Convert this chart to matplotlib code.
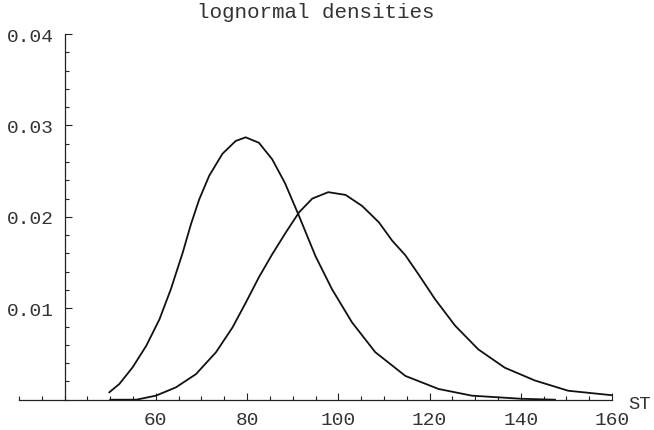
import matplotlib.pyplot as plt
from matplotlib.ticker import MultipleLocator

# density, curve peaking near 80
s1 = [49.8, 52.0, 54.9, 57.9, 60.8, 63.3, 65.9, 67.7, 69.5, 71.7, 74.6,
      77.5, 79.7, 82.6, 85.5, 88.3, 91.3, 95.0, 98.6, 103.0, 108.1, 114.7,
      122.0, 129.3, 140.2, 147.5]
d1 = [0.00081, 0.00172, 0.00354, 0.0059, 0.0088, 0.0121, 0.0161, 0.0192,
      0.0219, 0.0245, 0.0269, 0.0283, 0.0287, 0.0281, 0.0263, 0.0237,
      0.0202, 0.0157, 0.0121, 0.00846, 0.0052, 0.0026, 0.00117, 0.00044,
      0.0001, 0.0]

# curve peaking near 98
s2 = [50.0, 55.7, 60.0, 64.4, 68.8, 73.2, 76.8, 79.7, 82.6, 85.5, 88.5,
      91.4, 94.3, 97.8, 101.6, 105.2, 108.9, 111.8, 114.7, 117.6, 121.2,
      125.6, 130.7, 136.5, 143.1, 150.4, 159.8]
d2 = [0.0, 0.0, 0.00044, 0.00135, 0.0028, 0.0052, 0.0079, 0.0106, 0.0134,
      0.0159, 0.0183, 0.0205, 0.0220, 0.0227, 0.0224, 0.0212, 0.0194,
      0.0174, 0.0158, 0.0137, 0.0110, 0.0081, 0.0055, 0.0035, 0.0021,
      0.00098, 0.0005]

x_major = [60, 80, 100, 120, 140, 160]
y_major = [0.01, 0.02, 0.03, 0.04]
y_labels = ['0.01', '0.02', '0.03', '0.04']

plt.rcParams['font.family'] = ['Liberation Mono', 'DejaVu Sans Mono']
txt = '#333333'

fig = plt.figure(figsize=(6.54, 4.31), dpi=100)
ax = fig.add_axes([19 / 654, 30.3 / 431, 593 / 654, 365.7 / 431])

ax.plot(s1, d1, color='#111111', lw=1.3)
ax.plot(s2, d2, color='#111111', lw=1.3)

ax.set_xlim(30, 160)
ax.set_ylim(0, 0.04)

for side in ('top', 'right'):
    ax.spines[side].set_visible(False)
ax.spines['left'].set_position(('data', 40))
ax.spines['bottom'].set_position(('data', 0))
for side in ('left', 'bottom'):
    ax.spines[side].set_linewidth(0.9)
    ax.spines[side].set_color('#222222')

ax.set_xticks(x_major)
ax.set_xticklabels([str(v) for v in x_major])
ax.xaxis.set_minor_locator(MultipleLocator(5))
ax.set_yticks(y_major)
ax.set_yticklabels(y_labels)
ax.yaxis.set_minor_locator(MultipleLocator(0.002))

ax.tick_params(which='both', direction='in', colors='#222222', labelcolor=txt,
               labelsize=14, width=0.8)
ax.tick_params(which='major', length=5)
ax.tick_params(which='minor', length=3)
ax.tick_params(axis='x', pad=8)
ax.tick_params(axis='y', pad=8)

ax.annotate('ST', xy=(160, 0), xytext=(12, -3), textcoords='offset points',
            ha='left', va='center', fontsize=13.5, color=txt)
ax.set_title('lognormal densities', fontsize=15, color=txt, pad=12)

fig.savefig('out.png', dpi=100)
